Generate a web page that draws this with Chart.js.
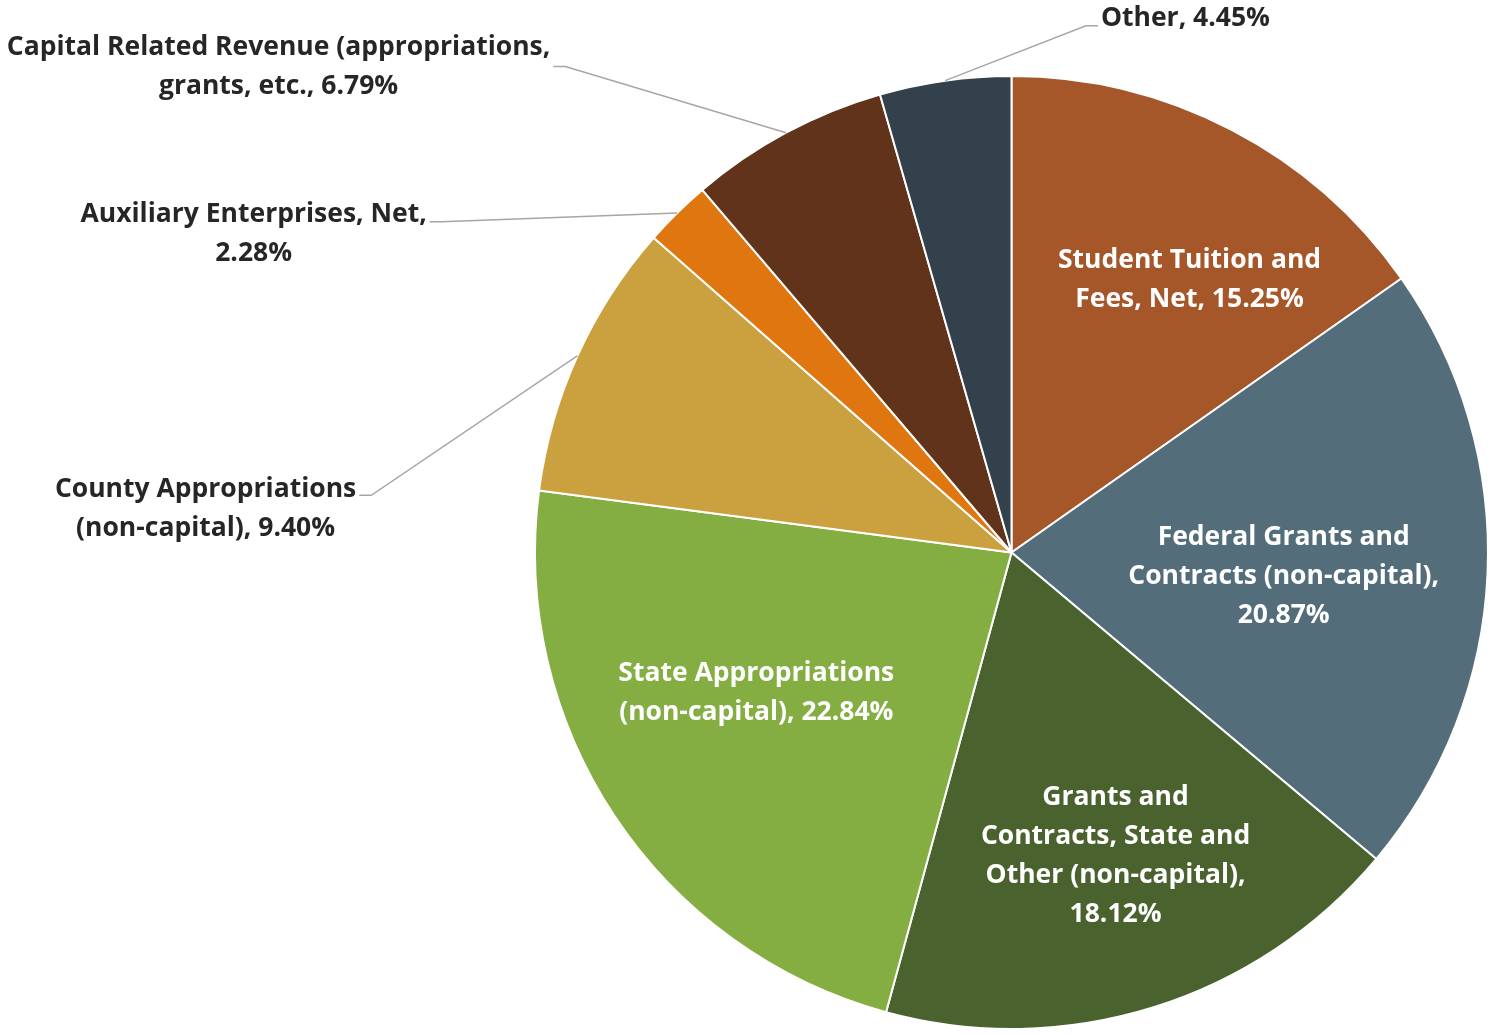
<!DOCTYPE html>
<html>
<head>
<meta charset="utf-8">
<script src="https://cdn.jsdelivr.net/npm/chart.js@4/dist/chart.umd.min.js"></script>
<style>
  html, body { margin: 0; padding: 0; background: #fff; }
  #wrap { width: 1494px; height: 1034px; position: relative; }
</style>
</head>
<body>
<div id="wrap"><canvas id="chartIngresos"></canvas></div>
<script>
const categorias = [
    'Student Tuition and Fees, Net',
    'Federal Grants and Contracts (non-capital)',
    'Grants and Contracts, State and Other (non-capital)',
    'State Appropriations (non-capital)',
    'County Appropriations (non-capital)',
    'Auxiliary Enterprises, Net',
    'Capital Related Revenue (appropriations, grants, etc.',
    'Other'
];
const porcentajes = [15.25, 20.87, 18.12, 22.84, 9.40, 2.28, 6.79, 4.45];
const colores = ['#A5572A', '#546D7A', '#4A622E', '#84AE42', '#CBA03E', '#E0760F', '#61331A', '#33414C'];

// label layout: words per line, angle shift from slice middle (deg), distance as fraction of radius
const etiquetas = [
    { lineas: [3, 3], giro: 5.5, dist: 0.687, dentro: true },
    { lineas: [3, 2, 1], giro: 2.1, dist: 0.573, dentro: true },
    { lineas: [2, 3, 2, 1], giro: -1.7, dist: 0.669, dentro: true },
    { lineas: [2, 2], giro: 5.2, dist: 0.609, dentro: true },
    { lineas: [2, 2], giro: -21.2, dist: 1.694, codo: -12 },
    { lineas: [3, 1], giro: -22.5, dist: 1.727, codo: -10 },
    { lineas: [4, 3], giro: -28.1, dist: 1.848, codo: 2 },
    { lineas: [2], giro: 26, dist: 1.182, codo: 9 }
];

const FUENTE = 'bold 26.5px "Open Sans"';
const ALTO_LINEA = 39;

const etiquetasPlugin = {
    id: 'etiquetas',
    afterDatasetsDraw(chart) {
        const ctx = chart.ctx;
        const meta = chart.getDatasetMeta(0);
        ctx.save();
        ctx.font = FUENTE;
        ctx.textAlign = 'center';
        ctx.textBaseline = 'middle';
        meta.data.forEach((arc, i) => {
            const conf = etiquetas[i];
            const palabras = `${categorias[i]}, ${porcentajes[i].toFixed(2)}%`.split(' ');
            const lineas = [];
            let k = 0;
            conf.lineas.forEach(n => { lineas.push(palabras.slice(k, k + n).join(' ')); k += n; });

            const medio = (arc.startAngle + arc.endAngle) / 2;
            const ang = medio + conf.giro * Math.PI / 180;
            const cx = arc.x + Math.cos(ang) * arc.outerRadius * conf.dist;
            const cy = arc.y + Math.sin(ang) * arc.outerRadius * conf.dist;
            const y0 = cy - (lineas.length - 1) * ALTO_LINEA / 2;

            if (!conf.dentro) {
                const ancho = Math.max(...lineas.map(l => ctx.measureText(l).width));
                const izquierda = cx > arc.x;
                const bordeX = izquierda ? cx - ancho / 2 - 3 : cx + ancho / 2 + 3;
                const codoX = izquierda ? bordeX - 12 : bordeX + 12;
                const codoY = cy + conf.codo;
                const px = arc.x + Math.cos(medio) * arc.outerRadius;
                const py = arc.y + Math.sin(medio) * arc.outerRadius;
                ctx.strokeStyle = '#A6A6A6';
                ctx.lineWidth = 1.5;
                ctx.beginPath();
                ctx.moveTo(px, py);
                ctx.lineTo(codoX, codoY);
                ctx.lineTo(bordeX, codoY);
                ctx.stroke();
            }
            ctx.fillStyle = conf.dentro ? '#FFFFFF' : '#262626';
            // +2: Open Sans sits a touch higher than the original face
            lineas.forEach((l, j) => ctx.fillText(l, cx, y0 + j * ALTO_LINEA + 2));
        });
        ctx.restore();
    }
};

const ctxIngresos = document.getElementById('chartIngresos').getContext('2d');
new Chart(ctxIngresos, {
    type: 'pie',
    data: {
        labels: categorias,
        datasets: [{ data: porcentajes, backgroundColor: colores, borderColor: '#FFFFFF', borderWidth: 2 }]
    },
    options: {
        responsive: true,
        maintainAspectRatio: false,
        animation: false,
        layout: { padding: { left: 534, right: 5, top: 75, bottom: 4 } },
        plugins: { legend: { display: false }, tooltip: { enabled: false } }
    },
    plugins: [etiquetasPlugin]
});
</script>
</body>
</html>
